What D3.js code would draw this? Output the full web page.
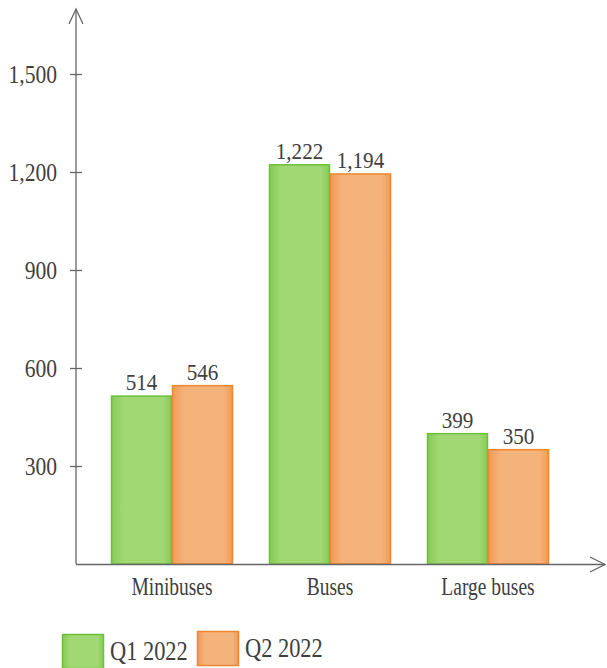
<!DOCTYPE html>
<html>
<head>
<meta charset="utf-8">
<script src="https://cdn.jsdelivr.net/npm/d3@7"></script>
<style>
  html, body { margin: 0; padding: 0; background: #fff; }
</style>
</head>
<body>
<svg id="chart" width="607" height="668"></svg>
<script>
// Bus sales by type, Q1 vs Q2 2022
const categories = ["Minibuses", "Buses", "Large buses"];
const seriesNames = ["Q1 2022", "Q2 2022"];
const q1Values = [514, 1222, 399];
const q2Values = [546, 1194, 350];
const yTicks = [300, 600, 900, 1200, 1500];

const FONT = '"Liberation Serif", "Times New Roman", serif';
const textColor = "#404040";
const svg = d3.select("#chart");
const x0 = 76, y0 = 564;

// Narrow the serif face horizontally: scale the glyphs, keep the anchor point
function condense(sel, sx) {
  sel.each(function () {
    const t = d3.select(this);
    const xv = +(t.attr("x") || 0);
    t.attr("x", xv / sx).attr("transform", `scale(${sx},1)`);
  });
}

const y = d3.scaleLinear().domain([0, 1500]).range([y0, 74]);
const x = d3.scaleBand().domain(categories).range([93, 567])
  .paddingInner(0.228).paddingOuter(0.114);
const xs = d3.scaleBand().domain(seriesNames).range([0, x.bandwidth()]);

// Gradients: darker edges, lighter centre
const defs = svg.append("defs");
const palettes = {
  "Q1 2022": { edge: "#86cc56", mid: "#a2d874", stroke: "#6abf3c" },
  "Q2 2022": { edge: "#f19a55", mid: "#f5b37c", stroke: "#ef8630" }
};
seriesNames.forEach((s, i) => {
  const g = defs.append("linearGradient").attr("id", "grad" + i)
    .attr("x1", "0").attr("x2", "1").attr("y1", "0").attr("y2", "0");
  const p = palettes[s];
  g.append("stop").attr("offset", "0%").attr("stop-color", p.edge);
  g.append("stop").attr("offset", "20%").attr("stop-color", p.mid);
  g.append("stop").attr("offset", "85%").attr("stop-color", p.mid);
  g.append("stop").attr("offset", "100%").attr("stop-color", p.edge);
});

const rows = categories.map((c, i) => ({ cat: c, vals: [q1Values[i], q2Values[i]] }));

// Bars
const groups = svg.selectAll("g.cat").data(rows).enter().append("g")
  .attr("class", "cat").attr("transform", d => `translate(${x(d.cat)},0)`);

groups.selectAll("rect").data(d => d.vals.map((v, i) => ({ s: seriesNames[i], v, i })))
  .enter().append("rect")
  .attr("x", d => xs(d.s) + 0.5)
  .attr("y", d => y(d.v))
  .attr("width", xs.bandwidth() - 1)
  .attr("height", d => y0 - y(d.v))
  .attr("fill", d => `url(#grad${d.i})`)
  .attr("stroke", d => palettes[d.s].stroke)
  .attr("stroke-width", 1.5);

// Value labels
const fmt = d3.format(",");
const vals = groups.selectAll("text.val").data(d => d.vals.map((v, i) => ({ s: seriesNames[i], v })))
  .enter().append("text").attr("class", "val")
  .attr("x", d => xs(d.s) + xs.bandwidth() / 2)
  .attr("y", d => y(d.v) - 6)
  .attr("text-anchor", "middle")
  .attr("font-size", 24)
  .attr("fill", textColor)
  .style("font-family", FONT)
  .text(d => fmt(d.v));
condense(vals, 0.88);

// Y axis with arrow
const axisColor = "#666";
svg.append("line").attr("x1", x0).attr("x2", x0).attr("y1", 9).attr("y2", y0)
  .attr("stroke", axisColor).attr("stroke-width", 1.3);
svg.append("path").attr("d", `M${x0 - 7},${24} L${x0},${9} L${x0 + 7},${24}`)
  .attr("fill", "none").attr("stroke", axisColor).attr("stroke-width", 1.3);

const yAxis = d3.axisLeft(y).tickValues(yTicks).tickFormat(fmt).tickSize(0).tickPadding(19);
const yg = svg.append("g").attr("transform", `translate(${x0},0)`).call(yAxis);
yg.select(".domain").remove();
yg.selectAll(".tick line").remove();
yg.selectAll(".tick").append("line")
  .attr("x1", -6).attr("x2", 6).attr("stroke", axisColor).attr("stroke-width", 1.3);
const yt = yg.selectAll(".tick text").attr("font-size", 26).attr("fill", textColor)
  .style("font-family", FONT);
condense(yt, 0.83);

// X axis with arrow
svg.append("line").attr("x1", x0).attr("x2", 605).attr("y1", y0 + 0.5).attr("y2", y0 + 0.5)
  .attr("stroke", axisColor).attr("stroke-width", 1.3);
svg.append("path").attr("d", `M${590},${y0 - 7} L${605},${y0 + 0.5} L${590},${y0 + 8}`)
  .attr("fill", "none").attr("stroke", axisColor).attr("stroke-width", 1.3);

const xAxis = d3.axisBottom(x).tickSize(0).tickPadding(13);
const xg = svg.append("g").attr("transform", `translate(0,${y0})`).call(xAxis);
xg.select(".domain").remove();
const xt = xg.selectAll(".tick text").attr("font-size", 25).attr("fill", textColor)
  .style("font-family", FONT);
condense(xt, 0.78);

// Legend
const legendX = [62, 197];
const legendY = [634, 631];
const leg = svg.selectAll("g.leg").data(seriesNames).enter().append("g")
  .attr("class", "leg").attr("transform", (d, i) => `translate(${legendX[i]},${legendY[i]})`);
leg.append("rect").attr("x", 0.5).attr("y", 0.5).attr("width", 41).attr("height", 34)
  .attr("fill", (d, i) => `url(#grad${i})`)
  .attr("stroke", d => palettes[d].stroke).attr("stroke-width", 1.5);
const lt = leg.append("text").attr("x", 48).attr("y", 26)
  .attr("font-size", 27).attr("fill", textColor)
  .style("font-family", FONT).text(d => d);
condense(lt, 0.83);
</script>
</body>
</html>
